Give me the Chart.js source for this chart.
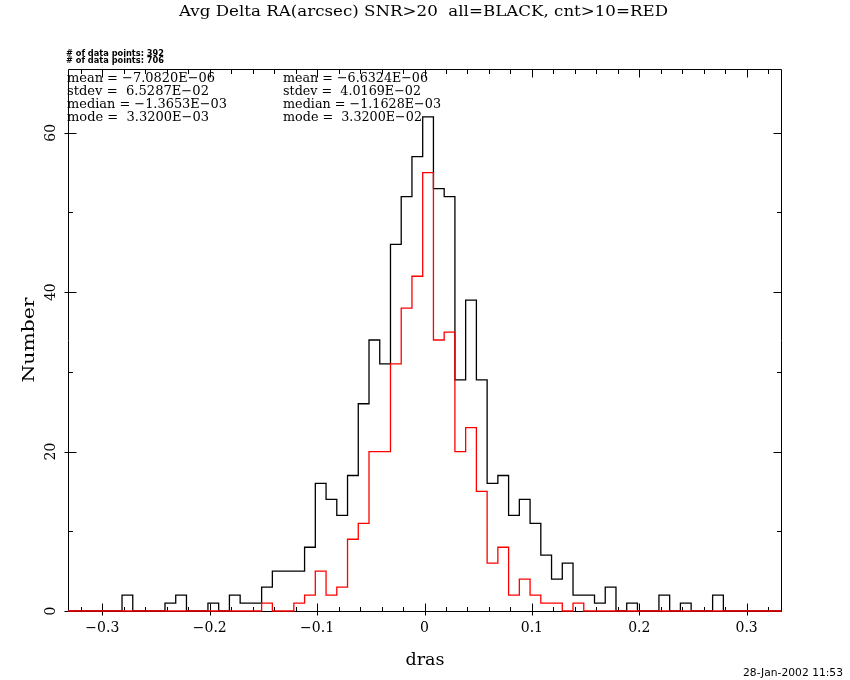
<!DOCTYPE html>
<html>
<head>
<meta charset="utf-8">
<script src="https://cdn.jsdelivr.net/npm/chart.js@4.4.1/dist/chart.umd.min.js"></script>
<style>
  html, body { margin: 0; padding: 0; background: #ffffff; }
  canvas { display: block; }
</style>
</head>
<body>
<canvas id="c" width="850" height="680"></canvas>
<script>
// ---------------- data ----------------
const binCenters = [
  -0.27668, -0.26668, -0.25668, -0.24668, -0.23668, -0.22668, -0.21668, -0.20668,
  -0.19668, -0.18668, -0.17668, -0.16668, -0.15668, -0.14668, -0.13668, -0.12668,
  -0.11668, -0.10668, -0.09668, -0.08668, -0.07668, -0.06668, -0.05668, -0.04668,
  -0.03668, -0.02668, -0.01668, -0.00668,
   0.00332,  0.01332,  0.02332,  0.03332,  0.04332,  0.05332,  0.06332,  0.07332,
   0.08332,  0.09332,  0.10332,  0.11332,  0.12332,  0.13332,  0.14332,  0.15332,
   0.16332,  0.17332,  0.18332,  0.19332,  0.20332,  0.21332,  0.22332,  0.23332,
   0.24332,  0.25332,  0.26332,  0.27332
];
const binWidth = 0.01;

// all = BLACK
const countsAll = [
  2, 0, 0, 0, 1, 2, 0, 0, 1, 0, 2, 1, 1, 3, 5, 5, 5, 8, 16, 14, 12, 17, 26, 34, 31, 46, 52, 57,
  62, 53, 52, 29, 39, 29, 16, 17, 12, 14, 11, 7, 4, 6, 2, 2, 1, 3, 0, 1, 0, 0, 2, 0, 1, 0, 0, 2
];
// cnt>10 = RED
const countsCnt10 = [
  0, 0, 0, 0, 0, 0, 0, 0, 0, 0, 0, 0, 0, 1, 0, 0, 1, 2, 5, 2, 3, 9, 11, 20, 20, 31, 38, 42,
  55, 34, 35, 20, 23, 15, 6, 8, 2, 4, 2, 1, 1, 0, 1, 0, 0, 0, 0, 0, 0, 0, 0, 0, 0, 0, 0, 0
];

const xMin = -0.332, xMax = 0.332;
const yMin = 0, yMax = 68;

const xMajorTicks = [-0.3, -0.2, -0.1, 0, 0.1, 0.2, 0.3];
const xTickLabels = ['\u22120.3', '\u22120.2', '\u22120.1', '0', '0.1', '0.2', '0.3'];
const xMinorTicks = [-0.32, -0.28, -0.26, -0.24, -0.22, -0.18, -0.16, -0.14, -0.12,
  -0.08, -0.06, -0.04, -0.02, 0.02, 0.04, 0.06, 0.08, 0.12, 0.14, 0.16, 0.18,
  0.22, 0.24, 0.26, 0.28, 0.32];
const yMajorTicks = [0, 20, 40, 60];
const yTickLabels = ['0', '20', '40', '60'];
const yMinorTicks = [10, 30, 50];

const titleText = 'Avg Delta RA(arcsec) SNR>20  all=BLACK, cnt>10=RED';
const xAxisLabel = 'dras';
const yAxisLabel = 'Number';
const nPointsLines = ['# of data points: 392', '# of data points: 706'];
const statsLeft = ['mean = \u22127.0820E\u221206', 'stdev =  6.5287E\u221202',
  'median = \u22121.3653E\u221203', 'mode =  3.3200E\u221203'];
const statsRight = ['mean = \u22126.6324E\u221206', 'stdev =  4.0169E\u221202',
  'median = \u22121.1628E\u221203', 'mode =  3.3200E\u221202'];
const dateText = '28-Jan-2002 11:53';

// ---------------- helpers ----------------
function stepPoints(counts) {
  const pts = [{ x: xMin, y: 0 }];
  counts.forEach((c, i) => pts.push({ x: binCenters[i] - binWidth / 2, y: c }));
  pts.push({ x: binCenters[binCenters.length - 1] + binWidth / 2, y: 0 });
  pts.push({ x: xMax, y: 0 });
  return pts;
}

function fitText(ctx, text, x, y, width, font, align, rot) {
  ctx.save();
  ctx.font = font;
  ctx.textBaseline = 'alphabetic';
  ctx.textAlign = 'left';
  const w = ctx.measureText(text).width;
  const sx = width ? width / w : 1;
  const realW = w * sx;
  ctx.translate(x, y);
  if (rot) ctx.rotate(rot);
  let ox = 0;
  if (align === 'center') ox = -realW / 2;
  else if (align === 'right') ox = -realW;
  ctx.translate(ox, 0);
  ctx.scale(sx, 1);
  ctx.fillText(text, 0, 0);
  ctx.restore();
}

const framePlugin = {
  id: 'frame',
  beforeDatasetsDraw(chart) {
    const ctx = chart.ctx;
    const xs = chart.scales.x, ys = chart.scales.y;
    const L = Math.round(xs.getPixelForValue(xMin)) + 0.5;
    const R = Math.round(xs.getPixelForValue(xMax)) + 0.5;
    const T = Math.round(ys.getPixelForValue(yMax)) + 0.5;
    const B = Math.round(ys.getPixelForValue(yMin)) + 0.5;
    ctx.save();
    ctx.strokeStyle = '#000';
    ctx.lineWidth = 1;
    ctx.beginPath();
    ctx.rect(L, T, R - L, B - T);
    const xt = (v, inLen, outLen) => {
      const px = Math.round(xs.getPixelForValue(v)) + 0.5;
      ctx.moveTo(px, B + outLen); ctx.lineTo(px, B - inLen);
      ctx.moveTo(px, T); ctx.lineTo(px, T + inLen);
    };
    xMajorTicks.forEach(v => xt(v, 8, 4));
    xMinorTicks.forEach(v => xt(v, 4.5, 0));
    const yt = (v, inLen, outLen) => {
      const py = Math.round(ys.getPixelForValue(v)) + 0.5;
      ctx.moveTo(L - outLen, py); ctx.lineTo(L + inLen, py);
      ctx.moveTo(R, py); ctx.lineTo(R - inLen, py);
    };
    yMajorTicks.forEach(v => yt(v, 8, 4));
    yMinorTicks.forEach(v => yt(v, 4.5, 0));
    ctx.stroke();
    ctx.restore();
  },
  afterDraw(chart) {
    const ctx = chart.ctx;
    const xs = chart.scales.x, ys = chart.scales.y;
    ctx.save();
    ctx.fillStyle = '#000';
    xMajorTicks.forEach((v, i) => {
      fitText(ctx, xTickLabels[i], xs.getPixelForValue(v), 632, 0, '14px "DejaVu Serif"', 'center');
    });
    yMajorTicks.forEach((v, i) => {
      fitText(ctx, yTickLabels[i], 55, ys.getPixelForValue(v), 0, '14px "DejaVu Serif"', 'center', -Math.PI / 2);
    });
    fitText(ctx, titleText, 179, 16, 489, '15px "DejaVu Serif"', 'left');
    fitText(ctx, xAxisLabel, 425, 665, 39, '16px "DejaVu Serif"', 'center');
    fitText(ctx, yAxisLabel, 33.5, 340, 85, '16px "DejaVu Serif"', 'center', -Math.PI / 2);
    fitText(ctx, nPointsLines[0], 66, 55.5, 98, 'bold 8px "DejaVu Sans"', 'left');
    fitText(ctx, nPointsLines[1], 66, 62.5, 98, 'bold 8px "DejaVu Sans"', 'left');
    const base = [81.5, 95, 108.3, 121.3];
    const wl = [148, 142, 160, 142];
    const wr = [145, 138, 158, 139];
    statsLeft.forEach((t, i) => fitText(ctx, t, 67, base[i], wl[i], '13px "DejaVu Serif"', 'left'));
    statsRight.forEach((t, i) => fitText(ctx, t, 283, base[i], wr[i], '13px "DejaVu Serif"', 'left'));
    fitText(ctx, dateText, 743, 676, 100, '10px "DejaVu Sans"', 'left');
    ctx.restore();
  }
};

new Chart(document.getElementById('c'), {
  type: 'scatter',
  data: {
    datasets: [
      {
        label: 'cnt>10',
        data: stepPoints(countsCnt10),
        showLine: true,
        stepped: true,
        borderColor: '#ff0000',
        borderWidth: 1.3,
        pointRadius: 0,
        fill: false,
        clip: 3
      },
      {
        label: 'all',
        data: stepPoints(countsAll),
        showLine: true,
        stepped: true,
        borderColor: '#000000',
        borderWidth: 1.3,
        pointRadius: 0,
        fill: false,
        clip: 3
      }
    ]
  },
  options: {
    responsive: false,
    devicePixelRatio: 1,
    animation: false,
    events: [],
    layout: { padding: { left: 68, top: 69, right: 69, bottom: 69 } },
    plugins: { legend: { display: false }, tooltip: { enabled: false }, title: { display: false } },
    scales: {
      x: { type: 'linear', min: xMin, max: xMax, display: false },
      y: { type: 'linear', min: yMin, max: yMax, display: false }
    }
  },
  plugins: [framePlugin]
});
</script>
</body>
</html>
